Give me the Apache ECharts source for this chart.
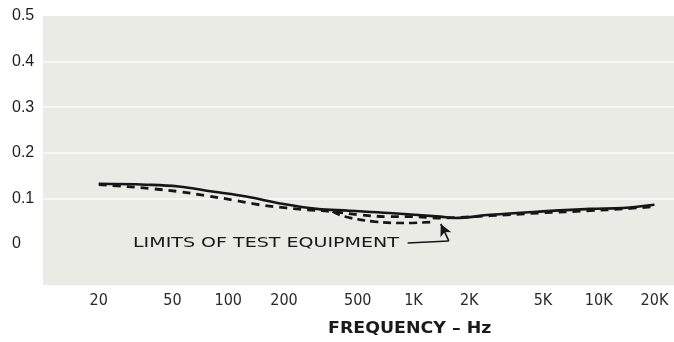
<!DOCTYPE html>
<html>
<head>
<meta charset="utf-8">
<script src="https://cdn.jsdelivr.net/npm/echarts@6/dist/echarts.min.js"></script>
<style>
html,body{margin:0;padding:0;background:#ffffff;}
#chart{width:674px;height:342px;}
</style>
</head>
<body>
<div id="chart"></div>
<script>
// Tick labels
const xTickFreqs = [20, 50, 100, 200, 500, 1000, 2000, 5000, 10000, 20000];
const xTickLabels = ['20', '50', '100', '200', '500', '1K', '2K', '5K', '10K', '20K'];
const yTicks = [0, 0.1, 0.2, 0.3, 0.4, 0.5];
const yGridLines = [0.1, 0.2, 0.3, 0.4];

// Solid curve
const solidFreqs = [20, 36, 54, 82, 125, 196, 300, 450, 740, 1390, 1670, 2600, 4800, 9000, 13500, 20000];
const solidValues = [0.132, 0.130, 0.126, 0.115, 0.104, 0.088, 0.077, 0.073, 0.068, 0.060, 0.057, 0.064, 0.071, 0.077, 0.079, 0.086];

// Dashed curve (close to the solid one)
const dashFreqs = [20, 28, 39, 54, 76, 111, 147, 206, 265, 366, 512, 743, 978, 1390, 2600, 4800, 9000, 13500, 20000];
const dashValues = [0.130, 0.126, 0.121, 0.115, 0.106, 0.095, 0.086, 0.079, 0.075, 0.071, 0.064, 0.060, 0.060, 0.057, 0.062, 0.068, 0.073, 0.077, 0.082];

// Lower dashed branch (limits of test equipment)
const limitFreqs = [366, 425, 617, 897, 1255];
const limitValues = [0.071, 0.060, 0.049, 0.046, 0.048];

// Annotation arrow path (frequency, value)
const arrowFreqs = [930, 1552, 1404];
const arrowValues = [0.002, 0.0066, 0.044];
const annotationText = 'LIMITS OF TEST EQUIPMENT';
const axisTitle = 'FREQUENCY \u2013 Hz';

const lg = Math.log10;
const toPts = (fs, vs) => fs.map((f, i) => [lg(f), vs[i]]);
const tickLogs = xTickFreqs.map(lg);

const ink = '#161616';
const chart = echarts.init(document.getElementById('chart'), null, {renderer: 'canvas'});

const option = {
  animation: false,
  backgroundColor: '#ffffff',
  grid: {
    left: 43, right: 0, top: 16, bottom: 57,
    show: true, backgroundColor: '#ebebe5', borderWidth: 0
  },
  xAxis: {
    type: 'value', min: 1.0, max: 4.4065,
    axisLine: {show: false}, axisTick: {show: false}, splitLine: {show: false},
    axisLabel: {
      customValues: tickLogs,
      margin: 8,
      color: '#2a2a2a',
      fontFamily: '"Liberation Sans Narrow", "DejaVu Sans Condensed", "Liberation Sans", sans-serif',
      fontSize: 16,
      formatter: function (v) {
        let best = 0, bd = 1e9;
        tickLogs.forEach((t, i) => { const d = Math.abs(t - v); if (d < bd) { bd = d; best = i; } });
        return xTickLabels[best];
      }
    }
  },
  yAxis: {
    type: 'value', min: -0.09, max: 0.5,
    axisLine: {show: false}, axisTick: {show: false}, splitLine: {show: false},
    axisLabel: {
      customValues: yTicks,
      align: 'left', margin: 31,
      color: '#1e1e1e',
      fontFamily: '"Liberation Sans", Arial, sans-serif',
      fontSize: 16,
      formatter: v => (Math.abs(v) < 1e-9 ? '0' : v.toFixed(1))
    }
  },
  series: [
    {
      type: 'line', data: toPts(solidFreqs, solidValues), smooth: 0.4,
      showSymbol: false, silent: true, z: 5,
      lineStyle: {color: ink, width: 2.6},
      markLine: {
        silent: true, symbol: ['none', 'none'], label: {show: false},
        lineStyle: {color: '#f7f7f3', width: 2, type: 'solid'},
        data: yGridLines.map(v => ({yAxis: v})),
        z: 1
      }
    },
    {
      type: 'line', data: toPts(dashFreqs, dashValues), smooth: 0.4,
      showSymbol: false, silent: true, z: 4,
      lineStyle: {color: ink, width: 2.8, type: [8, 6]}
    },
    {
      type: 'line', data: toPts(limitFreqs, limitValues), smooth: 0.4,
      showSymbol: false, silent: true, z: 4,
      lineStyle: {color: ink, width: 2.6, type: [8, 5]},
      markLine: {
        silent: true, label: {show: false}, symbolSize: [9, 12],
        lineStyle: {color: ink, width: 1.6, type: 'solid'},
        data: [
          [{coord: [lg(arrowFreqs[0]), arrowValues[0]], symbol: 'none'},
           {coord: [lg(arrowFreqs[1]), arrowValues[1]], symbol: 'none'}],
          [{coord: [lg(arrowFreqs[1]), arrowValues[1]], symbol: 'none'},
           {coord: [lg(arrowFreqs[2]), arrowValues[2]], symbol: 'arrow'}]
        ]
      }
    }
  ],
  graphic: [
    {
      type: 'text', x: 133, y: 243, scaleX: 1.36, silent: true,
      style: {
        text: annotationText, fill: '#1a1a1a',
        font: '14px "DejaVu Sans", sans-serif',
        textAlign: 'left', textVerticalAlign: 'middle'
      }
    },
    {
      type: 'text', x: 328, y: 329, scaleX: 1.16, silent: true,
      style: {
        text: axisTitle, fill: '#1a1a1a',
        font: 'bold 15px "DejaVu Sans", sans-serif',
        textAlign: 'left', textVerticalAlign: 'middle'
      }
    }
  ]
};
chart.setOption(option);
</script>
</body>
</html>
